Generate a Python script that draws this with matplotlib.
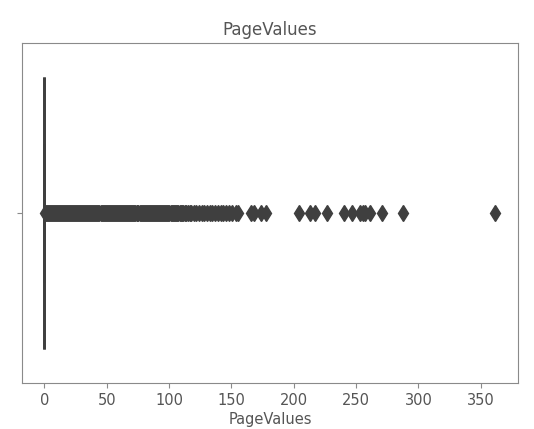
import matplotlib
matplotlib.use('Agg')
from matplotlib import pyplot as plt

# PageValues summary: more than three quarters of sessions sit at 0,
# so the quartiles and whiskers collapse onto zero and every positive value is a flier
FEATURE = 'PageValues'
q1, median, q3 = 0.0, 0.0, 0.0
whisker_low, whisker_high = 0.0, 0.0
page_value_outliers = [
    0.4, 1.1, 1.9, 2.7, 3.5, 4.4, 5.2, 6.0, 6.8, 7.5, 8.1, 9.0, 9.9, 10.7,
    11.6, 12.3, 13.0, 13.9, 14.7, 15.5, 16.3, 17.1, 18.0, 18.7, 19.4, 20.3,
    21.2, 22.0, 22.9, 23.7, 24.5, 25.3, 26.1, 27.0, 27.8, 28.5, 29.3, 30.2,
    31.0, 31.8, 32.6, 33.5, 34.4, 35.2, 36.0, 36.7, 37.5, 38.4, 39.3, 40.0,
    40.8, 41.6, 42.5, 43.3, 44.1, 45.0, 45.9, 46.6, 47.4, 48.2, 49.0, 49.9,
    50.8, 51.5, 52.3, 53.2, 54.1, 54.8, 55.6, 56.4, 57.3, 58.1, 59.0, 59.8,
    60.7, 61.4, 62.2, 63.1, 64.0, 64.8, 65.6, 66.5, 67.3, 68.1, 68.9, 69.8,
    70.6, 71.3, 72.1, 73.0, 73.9, 74.6, 75.4, 76.3, 77.2, 78.0, 78.8, 79.6,
    80.5, 81.2, 82.0, 82.9, 83.7, 84.6, 85.4, 86.3, 87.1, 87.8, 88.6, 89.5,
    90.3, 91.1, 92.0, 92.9, 93.8, 94.5, 95.2, 96.1, 97.0, 97.9, 98.7, 99.5,
    100.3, 101.2, 102.2, 103.1, 104.0, 105.0, 105.9, 106.7, 107.5, 108.5,
    109.6, 110.5, 111.4, 112.4, 113.5, 115.2, 116.4, 117.6, 119.8, 121.7,
    123.9, 126.0, 128.3, 130.1, 132.6, 134.2, 136.9, 139.0, 141.3, 143.2,
    145.8, 148.0, 150.2, 153.7, 155.4, 166.0, 168.1, 173.4, 177.8, 204.0,
    213.0, 216.8, 226.7, 240.0, 246.8, 253.0, 255.6, 257.5, 261.5, 270.8,
    287.9, 361.8,
]

TEXT = '#555555'
LINE = '#3f3f3f'

stats = [{'med': median, 'q1': q1, 'q3': q3,
          'whislo': whisker_low, 'whishi': whisker_high,
          'fliers': page_value_outliers, 'label': ''}]

fig = plt.figure(figsize=(5.34, 4.29), dpi=100)
ax = fig.add_axes([0.041, 0.107, 0.929, 0.793])

ax.bxp(stats, positions=[0], widths=0.8, orientation='horizontal',
       patch_artist=True,
       boxprops=dict(facecolor='#5975a4', edgecolor=LINE, linewidth=2),
       medianprops=dict(color=LINE, linewidth=2),
       whiskerprops=dict(color=LINE, linewidth=2),
       capprops=dict(color=LINE, linewidth=2),
       flierprops=dict(marker='d', markersize=8, markerfacecolor=LINE,
                       markeredgecolor=LINE, linestyle='none'))

ax.set_ylim(0.5, -0.5)
ax.set_yticks([0])
ax.set_yticklabels([''])
ax.margins(x=0.05)

ax.set_title(FEATURE, color=TEXT, fontsize=12)
ax.set_xlabel(FEATURE, color=TEXT, fontsize=10.5, labelpad=3)
for spine in ax.spines.values():
    spine.set_color('#8a8a8a')
ax.tick_params(colors='#8a8a8a', labelcolor=TEXT, labelsize=10.5)

fig.savefig('out.png', dpi=100)
